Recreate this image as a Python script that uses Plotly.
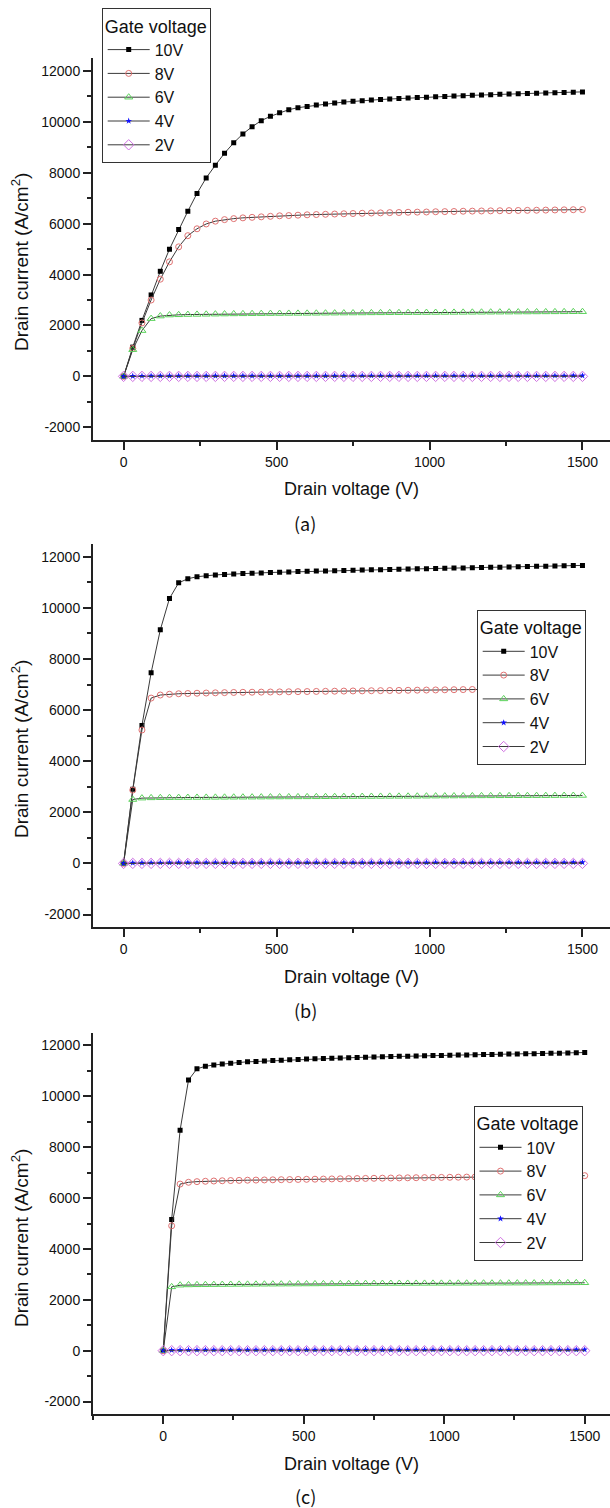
import plotly.graph_objects as go

# ---------------- data ----------------
DRAIN_V = list(range(0, 1501, 30))  # drain voltage sample points (V)
GATE_LABELS = ["10V", "8V", "6V", "4V", "2V"]

X_TICKS = [0, 500, 1000, 1500]
X_TICKTEXT = ["0", "500", "1000", "1500"]
Y_TICKS = [-2000, 0, 2000, 4000, 6000, 8000, 10000, 12000]
Y_TICKTEXT = ["-2000", "0", "2000", "4000", "6000", "8000", "10000", "12000"]

# panel (a)
A_10V = [0, 1150, 2200, 3200, 4130, 5000, 5770, 6490, 7190, 7800,
         8300, 8770, 9180, 9530, 9810, 10050, 10220, 10360, 10480, 10560,
         10610, 10660, 10700, 10740, 10780, 10810, 10835, 10860, 10880, 10900,
         10920, 10940, 10955, 10970, 10985, 11000, 11015, 11030, 11045, 11060,
         11070, 11085, 11095, 11105, 11115, 11125, 11140, 11150, 11160, 11170,
         11180]
A_8V = [0, 1100, 2100, 3000, 3820, 4500, 5090, 5530, 5800, 5990,
        6100, 6160, 6200, 6230, 6250, 6270, 6290, 6310, 6320, 6335,
        6350, 6360, 6370, 6380, 6390, 6400, 6410, 6420, 6425, 6435,
        6440, 6450, 6455, 6460, 6470, 6475, 6480, 6490, 6495, 6500,
        6505, 6510, 6515, 6520, 6525, 6530, 6535, 6540, 6545, 6550,
        6555]
A_6V = [0, 1050, 1800, 2270, 2370, 2410, 2420, 2430, 2435, 2440,
        2445, 2450, 2455, 2458, 2462, 2465, 2468, 2470, 2473, 2476,
        2478, 2480, 2483, 2485, 2488, 2490, 2492, 2495, 2497, 2500,
        2502, 2504, 2506, 2508, 2510, 2512, 2514, 2516, 2518, 2520,
        2522, 2524, 2526, 2528, 2530, 2532, 2534, 2536, 2538, 2540,
        2542]
A_4V = [0, 12, 16, 18, 19, 20, 20, 20, 21, 21,
        21, 21, 22, 22, 22, 22, 22, 22, 23, 23,
        23, 23, 23, 23, 23, 24, 24, 24, 24, 24,
        24, 24, 24, 25, 25, 25, 25, 25, 25, 25,
        25, 26, 26, 26, 26, 26, 26, 26, 26, 27,
        27]
A_2V = [0, 1, 1, 1, 1, 1, 1, 1, 1, 1,
        1, 1, 1, 1, 1, 1, 1, 1, 1, 1,
        1, 1, 1, 1, 1, 1, 1, 1, 1, 1,
        1, 1, 1, 1, 1, 1, 1, 1, 1, 1,
        1, 1, 1, 1, 1, 1, 1, 1, 1, 1,
        1]

# panel (b)
B_10V = [0, 2900, 5400, 7460, 9140, 10370, 10980, 11140, 11220, 11260,
         11290, 11310, 11330, 11345, 11360, 11370, 11385, 11395, 11405, 11420,
         11430, 11440, 11448, 11456, 11465, 11475, 11482, 11490, 11497, 11505,
         11512, 11520, 11527, 11535, 11542, 11550, 11557, 11565, 11572, 11580,
         11587, 11595, 11602, 11610, 11617, 11625, 11632, 11640, 11647, 11655,
         11662]
B_8V = [0, 2870, 5220, 6470, 6590, 6620, 6640, 6650, 6660, 6668,
        6676, 6683, 6690, 6696, 6700, 6704, 6708, 6713, 6717, 6722,
        6726, 6731, 6735, 6740, 6744, 6749, 6753, 6758, 6762, 6767,
        6771, 6776, 6780, 6785, 6789, 6794, 6798, 6803, 6807, 6812,
        6816, 6820, 6824, 6828, 6832, 6836, 6840, 6844, 6848, 6852,
        6856]
B_6V = [0, 2500, 2555, 2565, 2570, 2573, 2576, 2579, 2581, 2583,
        2585, 2587, 2589, 2591, 2593, 2595, 2597, 2599, 2601, 2603,
        2605, 2607, 2609, 2611, 2613, 2615, 2617, 2619, 2621, 2623,
        2625, 2627, 2629, 2631, 2633, 2635, 2637, 2639, 2641, 2643,
        2645, 2646, 2647, 2648, 2650, 2651, 2652, 2654, 2656, 2658,
        2660]
B_4V = [0, 20, 24, 26, 27, 28, 28, 29, 29, 29,
        30, 30, 30, 30, 31, 31, 31, 31, 31, 32,
        32, 32, 32, 32, 33, 33, 33, 33, 33, 34,
        34, 34, 34, 34, 35, 35, 35, 35, 35, 36,
        36, 36, 36, 36, 37, 37, 37, 37, 37, 38,
        38]
B_2V = [0, 1, 1, 1, 1, 1, 1, 1, 1, 1,
        1, 1, 1, 1, 1, 1, 1, 1, 1, 1,
        1, 1, 1, 1, 1, 1, 1, 1, 1, 1,
        1, 1, 1, 1, 1, 1, 1, 1, 1, 1,
        1, 1, 1, 1, 1, 1, 1, 1, 1, 1,
        1]

# panel (c)
C_10V = [0, 5160, 8670, 10640, 11080, 11180, 11230, 11270, 11300, 11330,
         11355, 11370, 11390, 11405, 11420, 11435, 11450, 11462, 11474, 11485,
         11496, 11506, 11516, 11526, 11535, 11545, 11553, 11562, 11570, 11578,
         11586, 11593, 11600, 11607, 11614, 11620, 11627, 11633, 11640, 11646,
         11652, 11658, 11664, 11670, 11676, 11682, 11688, 11694, 11700, 11710,
         11720]
C_8V = [0, 4910, 6550, 6620, 6645, 6660, 6670, 6680, 6688, 6695,
        6702, 6707, 6712, 6717, 6722, 6727, 6732, 6737, 6742, 6747,
        6752, 6757, 6762, 6767, 6772, 6777, 6782, 6787, 6792, 6796,
        6800, 6804, 6808, 6812, 6816, 6820, 6824, 6828, 6832, 6836,
        6840, 6844, 6848, 6852, 6856, 6860, 6864, 6868, 6872, 6876,
        6880]
C_6V = [0, 2510, 2575, 2585, 2590, 2594, 2597, 2600, 2603, 2606,
        2608, 2610, 2612, 2614, 2616, 2618, 2620, 2622, 2624, 2626,
        2628, 2630, 2632, 2634, 2636, 2638, 2640, 2641, 2642, 2643,
        2644, 2645, 2646, 2647, 2648, 2649, 2650, 2651, 2652, 2653,
        2654, 2655, 2656, 2657, 2658, 2660, 2662, 2664, 2666, 2668,
        2670]
C_4V = [0, 22, 26, 28, 29, 30, 30, 31, 31, 31,
        32, 32, 32, 32, 33, 33, 33, 33, 33, 34,
        34, 34, 34, 34, 35, 35, 35, 35, 35, 36,
        36, 36, 36, 36, 37, 37, 37, 37, 37, 38,
        38, 38, 38, 38, 39, 39, 39, 39, 39, 40,
        40]
C_2V = [0, 1, 1, 1, 1, 1, 1, 1, 1, 1,
        1, 1, 1, 1, 1, 1, 1, 1, 1, 1,
        1, 1, 1, 1, 1, 1, 1, 1, 1, 1,
        1, 1, 1, 1, 1, 1, 1, 1, 1, 1,
        1, 1, 1, 1, 1, 1, 1, 1, 1, 1,
        1]

PANEL_SERIES = [
    [A_10V, A_8V, A_6V, A_4V, A_2V],
    [B_10V, B_8V, B_6V, B_4V, B_2V],
    [C_10V, C_8V, C_6V, C_4V, C_2V],
]
PANEL_CAPTIONS = ["(a)", "(b)", "(c)"]
Y_TITLE = "Drain current (A/cm<sup>2</sup>)"
X_TITLE = "Drain voltage (V)"

# ---------------- styling ----------------
W, H = 610, 1508
FONT = "Liberation Sans, Arial, sans-serif"
INK = "#111111"
LINE_COLOR = "#3a3a3a"

MARKERS = [
    dict(symbol="square", size=5, color="#000000"),
    dict(symbol="circle-open", size=6, color="#e07272", line=dict(width=1)),
    dict(symbol="triangle-up-open", size=7, color="#5ad25a", line=dict(width=1)),
    dict(symbol="star", size=5, color="#1010ff", line=dict(width=0)),
    dict(symbol="diamond-open", size=8, color="#d070e2", line=dict(width=1)),
]

# pixel layout of each panel
PANEL_Y_PX = [(58.3, 440.0), (544.0, 927.3), (1032.7, 1414.3)]
PLOT_LEFT_PX = 93.0
X_RANGES = [[-100, 1590], [-100, 1590], [-250, 1590]]
Y_RANGE = [-2500, 12500]
LEGEND_POS_PX = [(101.7, 8.3), (476.7, 610.0), (473.5, 1106.0)]
CAPTION_Y_PX = [523, 1010, 1496]
YTITLE_Y_PX = [262, 749, 1238]
YTITLE_X_PX = 20

fig = go.Figure()

for p in range(3):
    suffix = "" if p == 0 else str(p + 1)
    legend_name = "legend" if p == 0 else f"legend{p + 1}"
    for s, (vals, lab) in enumerate(zip(PANEL_SERIES[p], GATE_LABELS)):
        fig.add_trace(go.Scatter(
            x=DRAIN_V, y=vals, name=lab,
            mode="lines+markers",
            line=dict(color=LINE_COLOR, width=1),
            marker=MARKERS[s],
            xaxis="x" + suffix, yaxis="y" + suffix,
            legend=legend_name,
            showlegend=True,
        ))

    top, bot = PANEL_Y_PX[p]
    ydom = [1 - bot / H, 1 - top / H]
    xdom = [PLOT_LEFT_PX / W, 1.0]

    axis_common = dict(
        showline=True, linecolor="#222222", linewidth=2,
        ticks="outside", ticklen=8, tickwidth=2, tickcolor="#222222",
        showgrid=False, zeroline=False, mirror=False,
        tickfont=dict(family=FONT, size=14, color=INK),
        automargin=False,
    )
    fig.update_layout({
        "xaxis" + suffix: dict(
            axis_common,
            domain=xdom, range=X_RANGES[p], anchor="y" + suffix,
            tickmode="array", tickvals=X_TICKS, ticktext=X_TICKTEXT,
            minor=dict(tickmode="linear", tick0=0, dtick=250, ticks="outside",
                       ticklen=4, tickwidth=2, tickcolor="#222222", showgrid=False),
            title=dict(text=X_TITLE, standoff=14,
                       font=dict(family=FONT, size=18, color=INK)),
        ),
        "yaxis" + suffix: dict(
            axis_common,
            domain=ydom, range=Y_RANGE, anchor="x" + suffix,
            tickmode="array", tickvals=Y_TICKS, ticktext=Y_TICKTEXT,
            minor=dict(tickmode="linear", tick0=0, dtick=1000, ticks="outside",
                       ticklen=4, tickwidth=2, tickcolor="#222222", showgrid=False),
        ),
    })

    # y-axis title (placed slightly below the axis centre, as in the source)
    fig.add_annotation(
        text=Y_TITLE, xref="paper", yref="paper",
        x=YTITLE_X_PX / W, y=1 - YTITLE_Y_PX[p] / H,
        xanchor="center", yanchor="middle", textangle=-90,
        showarrow=False, font=dict(family=FONT, size=19, color=INK),
    )

    lx, ly = LEGEND_POS_PX[p]
    fig.update_layout({
        legend_name: dict(
            x=lx / W, y=1 - ly / H, xanchor="left", yanchor="top",
            xref="paper", yref="paper",
            bgcolor="white", bordercolor="#333333", borderwidth=1,
            font=dict(family=FONT, size=16, color=INK),
            title=dict(text="Gate voltage", font=dict(family=FONT, size=18, color=INK)),
            itemwidth=42, tracegroupgap=0,
        )
    })

    fig.add_annotation(
        text=PANEL_CAPTIONS[p], xref="paper", yref="paper",
        x=0.5, y=1 - CAPTION_Y_PX[p] / H, xanchor="center", yanchor="middle",
        showarrow=False,
        font=dict(family="'Noto Sans CJK KR', 'Noto Sans', sans-serif", size=18, color=INK),
    )

fig.update_layout(
    width=W, height=H,
    margin=dict(l=0, r=0, t=0, b=0),
    paper_bgcolor="white", plot_bgcolor="white",
    font=dict(family=FONT, color=INK),
)

fig.write_html("out.html", config={"displayModeBar": False},
               post_script="document.body.style.margin='0';")
